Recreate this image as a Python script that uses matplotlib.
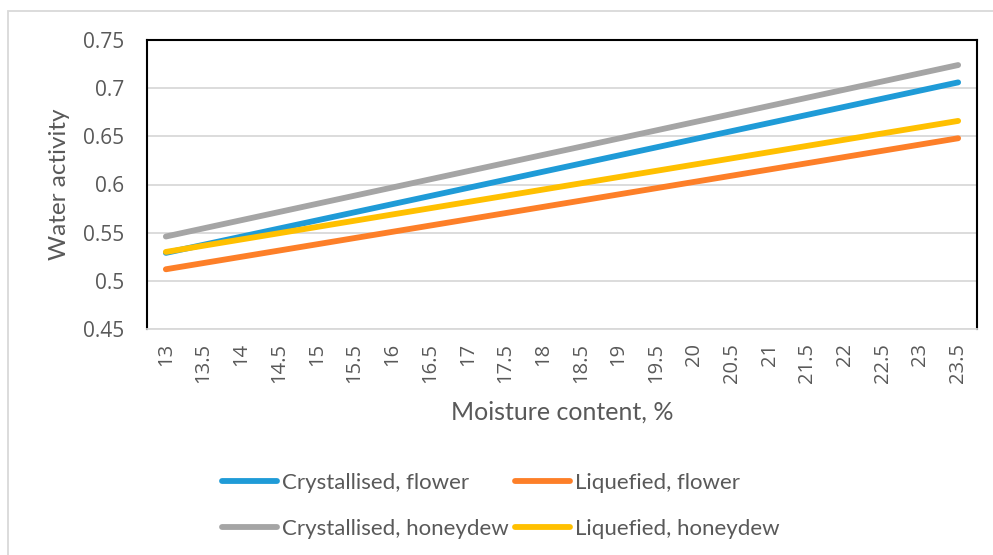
import matplotlib.pyplot as plt
from matplotlib.patches import Rectangle

# x categories (moisture content, %)
moisture = [13, 13.5, 14, 14.5, 15, 15.5, 16, 16.5, 17, 17.5, 18, 18.5,
            19, 19.5, 20, 20.5, 21, 21.5, 22, 22.5, 23, 23.5]
tick_labels = [f"{m:g}" for m in moisture]

# water activity at first and last category (straight lines)
end_x = [13, 23.5]
cryst_flower = [0.529, 0.706]
liq_flower = [0.512, 0.648]
cryst_honeydew = [0.546, 0.724]
liq_honeydew = [0.530, 0.666]

series = [
    ("Crystallised, flower", cryst_flower, "#1f9bd7"),
    ("Liquefied, flower", liq_flower, "#fd7f28"),
    ("Crystallised, honeydew", cryst_honeydew, "#a5a5a5"),
    ("Liquefied, honeydew", liq_honeydew, "#ffc000"),
]

txt = "#595959"
fig = plt.figure(figsize=(9.93, 5.55), dpi=100)
ax = fig.add_axes([147 / 993, 1 - 329 / 555, 830 / 993, 289 / 555])

pos = [moisture.index(x) for x in end_x]
lines = []
for name, vals, col in series:
    ln, = ax.plot(pos, vals, color=col, lw=4.2, solid_capstyle="round", label=name, zorder=3)
    lines.append(ln)

ax.set_xlim(-0.5, len(moisture) - 0.5)
ax.set_ylim(0.45, 0.75)
ax.set_xticks(range(len(moisture)))
ax.set_xticklabels(tick_labels, rotation=90, fontfamily="Open Sans", fontsize=14.5, color=txt)
ax.set_yticks([0.45, 0.5, 0.55, 0.6, 0.65, 0.7, 0.75])
ax.set_yticklabels(["0.45", "0.5", "0.55", "0.6", "0.65", "0.7", "0.75"],
                   fontfamily="Open Sans", fontsize=15, color=txt)
ax.tick_params(axis="x", length=0, pad=10)
ax.tick_params(axis="y", length=0, pad=16.5)
ax.grid(axis="y", color="#d9d9d9", lw=1.3, zorder=0)
for s in ["left", "top", "right"]:
    ax.spines[s].set_color("black")
    ax.spines[s].set_linewidth(1.5)
ax.spines["bottom"].set_color("#d9d9d9")
ax.spines["bottom"].set_linewidth(1.3)

ax.set_xlabel("Moisture content, %", fontfamily="Lato", fontsize=18, color=txt, labelpad=13)
ax.set_ylabel("Water activity", fontfamily="Lato", fontsize=17.5, color=txt, labelpad=9)

# column-major order so rows read flower / honeydew
order = [0, 2, 1, 3]
fig.legend(handles=[lines[i] for i in order], ncol=2, loc="upper left",
           bbox_to_anchor=(222 / 993, 1 - 473 / 555), borderaxespad=0, borderpad=0,
           frameon=False, prop={"family": "Lato", "size": 16}, labelcolor=txt,
           handlelength=2.48, handletextpad=0.22, columnspacing=0.27, labelspacing=1.15)

# outer chart frame (cut off at right and bottom)
fig.patches.append(Rectangle((8 / 993, -0.1), 1.1, 0.1 + 1 - 11 / 555, transform=fig.transFigure,
                             fill=False, edgecolor="#d9d9d9", lw=1.3))

fig.savefig("out.png", dpi=100)
